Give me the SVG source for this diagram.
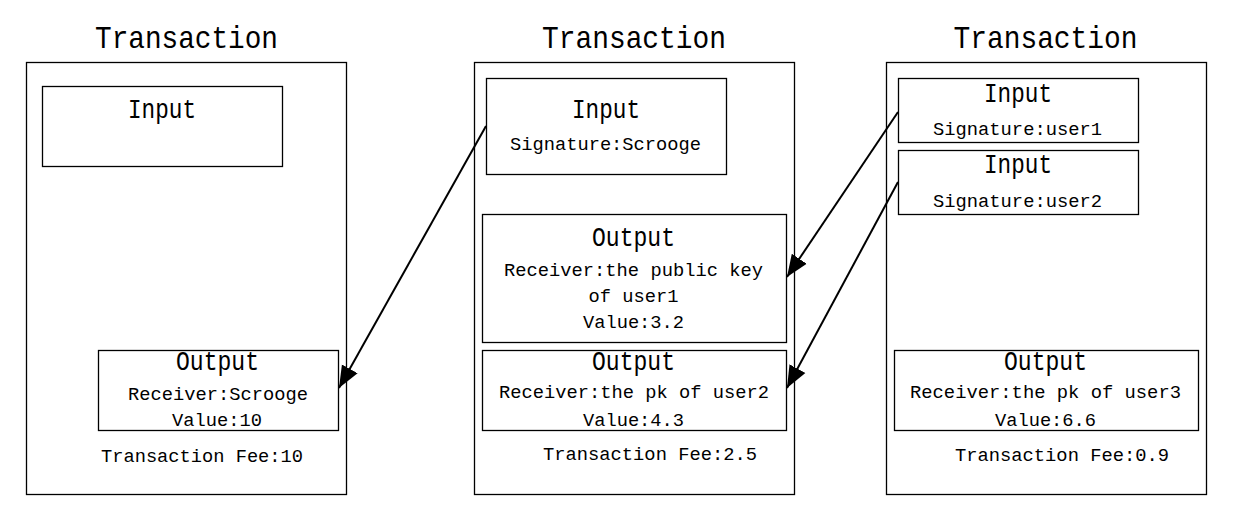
<svg xmlns="http://www.w3.org/2000/svg" width="1239" height="529" viewBox="0 0 1239 529">
<style>
text{font-family:"Liberation Mono","Noto Sans CJK SC",monospace;fill:#000;text-anchor:middle}
.t{font-size:32px}
.h{font-size:28px}
.s{font-size:19px}
.box{fill:none;stroke:#000;stroke-width:1.3}
.c{stroke:#000;stroke-width:2;fill:none}
</style>
<defs>
<marker id="ah" markerUnits="userSpaceOnUse" markerWidth="24" markerHeight="20" refX="22" refY="9" orient="auto" viewBox="0 0 24 18">
<path d="M0,0 L22,9 L0,18 Z" fill="#000"/>
</marker>
</defs>
<rect width="1239" height="529" fill="#fff"/>
<g id="tx1">
<text class="t" x="186.5" y="48" textLength="183" lengthAdjust="spacingAndGlyphs">Transaction</text>
<rect class="box" x="26.5" y="62.5" width="320" height="432"/>
<g id="tx1-input">
<rect class="box" x="42.5" y="86.5" width="240" height="80"/>
<text class="h" x="162" y="118" textLength="68" lengthAdjust="spacingAndGlyphs">Input</text>
</g>
<g id="tx1-output">
<rect class="box" x="98.5" y="350.5" width="240" height="80"/>
<text class="h" x="217.5" y="370" textLength="83" lengthAdjust="spacingAndGlyphs">Output</text>
<text class="s" x="218" y="400" textLength="180" lengthAdjust="spacingAndGlyphs">Receiver:Scrooge</text>
<text class="s" x="217" y="426" textLength="90" lengthAdjust="spacingAndGlyphs">Value:10</text>
</g>
<text class="s" x="202" y="462" textLength="202" lengthAdjust="spacingAndGlyphs">Transaction Fee:10</text>
</g>
<g id="tx2">
<text class="t" x="634" y="48" textLength="184" lengthAdjust="spacingAndGlyphs">Transaction</text>
<rect class="box" x="474.5" y="62.5" width="320" height="432"/>
<g id="tx2-input">
<rect class="box" x="486.5" y="78.5" width="240" height="96"/>
<text class="h" x="606" y="118" textLength="68" lengthAdjust="spacingAndGlyphs">Input</text>
<text class="s" x="605.5" y="150" textLength="191" lengthAdjust="spacingAndGlyphs">Signature:Scrooge</text>
</g>
<g id="tx2-output1">
<rect class="box" x="482.5" y="214.5" width="304" height="128"/>
<text class="h" x="633.5" y="246" textLength="83" lengthAdjust="spacingAndGlyphs">Output</text>
<text class="s" x="633.5" y="276" textLength="259" lengthAdjust="spacingAndGlyphs">Receiver:the public key</text>
<text class="s" x="633.5" y="302" textLength="90" lengthAdjust="spacingAndGlyphs">of user1</text>
<text class="s" x="633.5" y="328" textLength="101" lengthAdjust="spacingAndGlyphs">Value:3.2</text>
</g>
<g id="tx2-output2">
<rect class="box" x="482.5" y="350.5" width="304" height="80"/>
<text class="h" x="633.5" y="370" textLength="83" lengthAdjust="spacingAndGlyphs">Output</text>
<text class="s" x="634" y="398" textLength="270" lengthAdjust="spacingAndGlyphs">Receiver:the pk of user2</text>
<text class="s" x="633.5" y="426" textLength="101" lengthAdjust="spacingAndGlyphs">Value:4.3</text>
</g>
<text class="s" x="650" y="460" textLength="214" lengthAdjust="spacingAndGlyphs">Transaction Fee:2.5</text>
</g>
<g id="tx3">
<text class="t" x="1045.5" y="48" textLength="184" lengthAdjust="spacingAndGlyphs">Transaction</text>
<rect class="box" x="886.5" y="62.5" width="320" height="432"/>
<g id="tx3-input1">
<rect class="box" x="898.5" y="78.5" width="240" height="64"/>
<text class="h" x="1018" y="102" textLength="68" lengthAdjust="spacingAndGlyphs">Input</text>
<text class="s" x="1017.5" y="135" textLength="169" lengthAdjust="spacingAndGlyphs">Signature:user1</text>
</g>
<g id="tx3-input2">
<rect class="box" x="898.5" y="150.5" width="240" height="64"/>
<text class="h" x="1018" y="173" textLength="68" lengthAdjust="spacingAndGlyphs">Input</text>
<text class="s" x="1017.5" y="207" textLength="169" lengthAdjust="spacingAndGlyphs">Signature:user2</text>
</g>
<g id="tx3-output">
<rect class="box" x="894.5" y="350.5" width="304" height="80"/>
<text class="h" x="1045.5" y="370" textLength="83" lengthAdjust="spacingAndGlyphs">Output</text>
<text class="s" x="1045.5" y="398" textLength="271" lengthAdjust="spacingAndGlyphs">Receiver:the pk of user3</text>
<text class="s" x="1045.5" y="426" textLength="101" lengthAdjust="spacingAndGlyphs">Value:6.6</text>
</g>
<text class="s" x="1062" y="461" textLength="214" lengthAdjust="spacingAndGlyphs">Transaction Fee:0.9</text>
</g>
<g id="connectors">
<line class="c" x1="486" y1="126" x2="339" y2="388" marker-end="url(#ah)"/>
<line class="c" x1="898" y1="112" x2="787" y2="277" marker-end="url(#ah)"/>
<line class="c" x1="898" y1="182" x2="787" y2="388" marker-end="url(#ah)"/>
</g>
</svg>
